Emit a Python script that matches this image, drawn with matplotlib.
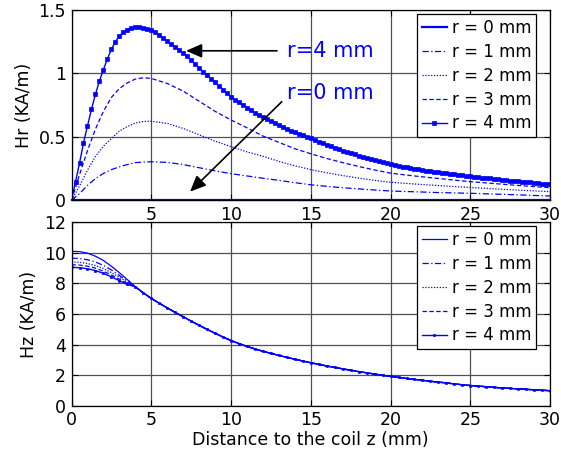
import numpy as np
import matplotlib
matplotlib.use("Agg")
import matplotlib.pyplot as plt

# ---------------- radial field Hr (KA/m) ----------------
# r = 4 mm sampled every 0.25 mm, the other radii on a coarser grid
z_fine = np.arange(0, 30.001, 0.25)
z_coarse = np.r_[np.arange(0, 5.001, 0.5), np.arange(6, 31, 1.0)]

hr_r4 = [0.000, 0.145, 0.290, 0.450, 0.585, 0.715, 0.835, 0.940, 1.030, 1.115,
         1.190, 1.250, 1.295, 1.325, 1.345, 1.358, 1.365, 1.366, 1.361, 1.353,
         1.342, 1.323, 1.302, 1.278, 1.255, 1.232, 1.210, 1.187, 1.163, 1.133,
         1.103, 1.072, 1.040, 1.012, 0.985, 0.957, 0.930, 0.901, 0.872, 0.843,
         0.815, 0.793, 0.772, 0.751, 0.730, 0.710, 0.690, 0.671, 0.652, 0.636,
         0.620, 0.605, 0.590, 0.576, 0.562, 0.548, 0.535, 0.523, 0.511, 0.499,
         0.487, 0.474, 0.461, 0.448, 0.435, 0.424, 0.412, 0.401, 0.390, 0.380,
         0.370, 0.360, 0.350, 0.341, 0.332, 0.324, 0.315, 0.307, 0.299, 0.291,
         0.283, 0.277, 0.270, 0.264, 0.258, 0.253, 0.247, 0.242, 0.237, 0.232,
         0.228, 0.223, 0.219, 0.215, 0.211, 0.207, 0.203, 0.199, 0.195, 0.192,
         0.188, 0.184, 0.181, 0.177, 0.174, 0.171, 0.167, 0.164, 0.161, 0.158,
         0.154, 0.151, 0.148, 0.145, 0.142, 0.139, 0.136, 0.133, 0.130, 0.128,
         0.125]
hr_r3 = [0.0, 0.20, 0.39, 0.56, 0.70, 0.81, 0.88, 0.925, 0.955, 0.965, 0.96,
         0.92, 0.86, 0.78, 0.70, 0.632, 0.57, 0.505, 0.455, 0.405, 0.365, 0.328,
         0.295, 0.265, 0.237, 0.212, 0.197, 0.183, 0.170, 0.157, 0.145, 0.135,
         0.125, 0.115, 0.106, 0.097]
hr_r2 = [0.0, 0.11, 0.235, 0.345, 0.425, 0.485, 0.545, 0.58, 0.608, 0.62, 0.622,
         0.605, 0.565, 0.515, 0.465, 0.421, 0.38, 0.345, 0.305, 0.27, 0.24, 0.215,
         0.193, 0.173, 0.155, 0.14, 0.131, 0.122, 0.114, 0.106, 0.099, 0.092,
         0.085, 0.078, 0.072, 0.066]
hr_r1 = [0.0, 0.05, 0.115, 0.17, 0.21, 0.24, 0.262, 0.28, 0.295, 0.30, 0.302,
         0.297, 0.28, 0.255, 0.23, 0.208, 0.19, 0.172, 0.155, 0.137, 0.12, 0.108,
         0.097, 0.088, 0.079, 0.071, 0.067, 0.063, 0.059, 0.056, 0.053, 0.049,
         0.045, 0.041, 0.036, 0.032]
hr_r0 = [0.0] * len(z_coarse)

# ---------------- axial field Hz (KA/m) ----------------
z_hz = np.arange(0, 30.001, 0.5)
# near the coil each radius differs (z = 0 .. 3.5)
hz_head = {
    0: [10.10, 10.08, 9.98, 9.78, 9.50, 9.12, 8.70, 8.25],
    1: [9.65, 9.63, 9.55, 9.40, 9.18, 8.88, 8.52, 8.15],
    2: [9.40, 9.38, 9.30, 9.17, 8.97, 8.70, 8.40, 8.08],
    3: [9.22, 9.20, 9.13, 9.00, 8.80, 8.55, 8.27, 8.00],
    4: [9.05, 9.03, 8.96, 8.84, 8.66, 8.43, 8.18, 7.93],
}
# further away all radii share the same curve (z = 4 .. 30)
hz_tail = [7.78, 7.38, 7.02, 6.70, 6.40, 6.10, 5.82, 5.53, 5.26, 4.99,
           4.74, 4.49, 4.26, 4.06, 3.88, 3.71, 3.56, 3.42, 3.29, 3.16,
           3.04, 2.92, 2.81, 2.70, 2.60, 2.50, 2.41, 2.32, 2.23, 2.15,
           2.07, 1.99, 1.92, 1.85, 1.78, 1.72, 1.66, 1.60, 1.54, 1.49,
           1.42, 1.37, 1.32, 1.28, 1.24, 1.20, 1.16, 1.13, 1.10, 1.07,
           1.04, 1.01, 0.98]

labels = ["r = 0 mm", "r = 1 mm", "r = 2 mm", "r = 3 mm", "r = 4 mm"]
styles = ["-", (0, (5, 2, 1, 2)), (0, (1, 1.3)), (0, (3.5, 2)), "-"]
blue = "#0000ff"

plt.rcParams["font.family"] = "DejaVu Sans"
plt.rcParams["font.size"] = 12

fig = plt.figure(figsize=(5.61, 4.55), dpi=100)
ax1 = fig.add_axes([0.1275, 0.5604, 0.853, 0.4176])
ax2 = fig.add_axes([0.1275, 0.1084, 0.853, 0.4031])


def style_axes(ax):
    ax.grid(True, color="#505050", linewidth=0.9)
    ax.set_axisbelow(True)
    ax.tick_params(direction="in", top=True, right=True, length=4,
                   width=0.8, labelsize=12.5, pad=4)
    for s in ax.spines.values():
        s.set_linewidth(0.9)
        s.set_color("black")


def add_legend(ax):
    leg = ax.legend(loc="upper right", bbox_to_anchor=(0.971, 0.979),
                    borderaxespad=0, fontsize=12, handlelength=1.5,
                    handletextpad=0.3, labelspacing=0.35, borderpad=0.3,
                    fancybox=False, framealpha=1)
    leg.get_frame().set_edgecolor("black")
    leg.get_frame().set_linewidth(0.9)


# top: Hr
hr_thin = [hr_r0, hr_r1, hr_r2, hr_r3]
for i in range(4):
    ax1.plot(z_coarse, hr_thin[i], color=blue, linestyle=styles[i],
             linewidth=0.9 if i else 1.6, label=labels[i], clip_on=(i != 0))
ax1.plot(z_fine, hr_r4, color=blue, linestyle="-", linewidth=1.0,
         marker="s", markersize=2.3, markeredgewidth=0.5, label=labels[4])
ax1.set_xlim(0, 30)
ax1.set_ylim(0, 1.5)
ax1.set_xticks(np.arange(0, 31, 5))
ax1.set_xticklabels([""] + [str(v) for v in range(5, 31, 5)])
ax1.set_yticks([0, 0.5, 1, 1.5])
ax1.set_yticklabels(["0", "0.5", "1", "1.5"])
ax1.set_ylabel("Hr (KA/m)", fontsize=12.5, labelpad=4)
style_axes(ax1)
add_legend(ax1)

arrow = dict(arrowstyle="-|>,head_length=0.8,head_width=0.35",
             color="black", lw=1.2, mutation_scale=12, shrinkA=0, shrinkB=0)
ax1.annotate("", xy=(7.18, 1.178), xytext=(12.88, 1.178), arrowprops=arrow)
ax1.annotate("", xy=(7.43, 0.066), xytext=(13.18, 0.776), arrowprops=arrow)
ax1.text(13.49, 1.178, "r=4 mm", color=blue, fontsize=15, va="center", ha="left")
ax1.text(13.49, 0.847, "r=0 mm", color=blue, fontsize=15, va="center", ha="left")

# bottom: Hz
for i in range(5):
    hz = hz_head[i] + hz_tail
    if i == 4:
        ax2.plot(z_hz, hz, color=blue, linestyle="-", linewidth=1.0,
                 marker="o", markersize=1.8, markeredgewidth=0.4, label=labels[i])
    else:
        ax2.plot(z_hz, hz, color=blue, linestyle=styles[i], linewidth=0.9,
                 label=labels[i])
ax2.set_xlim(0, 30)
ax2.set_ylim(0, 12)
ax2.set_xticks(np.arange(0, 31, 5))
ax2.set_yticks(np.arange(0, 13, 2))
ax2.set_ylabel("Hz (KA/m)", fontsize=12.5, labelpad=4)
ax2.set_xlabel("Distance to the coil z (mm)", fontsize=12.5, labelpad=1)
style_axes(ax2)
add_legend(ax2)

fig.savefig("out.png", dpi=100)
